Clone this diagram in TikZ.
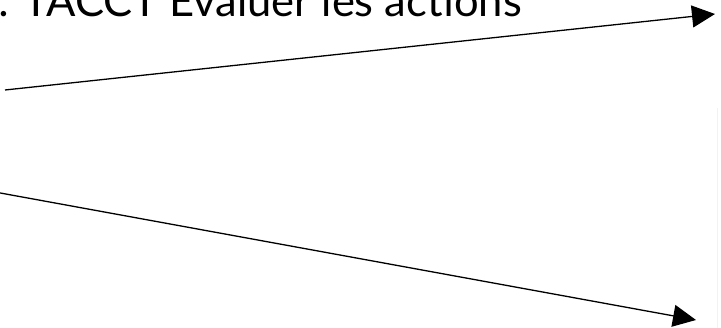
\documentclass[tikz,border=0pt]{standalone}
\usepackage{fontspec}
\setmainfont{Lato}
\usepackage{xcolor}
\usetikzlibrary{arrows.meta,positioning}
\definecolor{figInk}{HTML}{000000}
\definecolor{figEdge}{HTML}{F2F2F2}

\begin{document}
\begin{tikzpicture}[
  x=1pt, y=-1pt,
  >={Triangle[length=23pt,width=22pt]},
  flow/.style={figInk, line width=1.3pt, ->},
  titletext/.style={font=\fontsize{43.5}{50}\selectfont, inner sep=0pt, anchor=base west},
]

% --- Frame (reference proportions) ---
\useasboundingbox (0,0) rectangle (721,328);
\clip (0,0) rectangle (721,328);

% --- Title, cut at the top ---
\node[titletext] (title) at (-2,17) {: TACCT Évaluer les actions};

% --- End points ---
\coordinate (srcA) at (5,90);
\coordinate (srcB) at (-20,189.3);
\coordinate (dstA) at (715,14);
\coordinate (dstB) at (696,320);

% --- Edge of a box at the right ---
\draw[figEdge, line width=1pt] (717,108) -- (717,330);

% --- Arrows ---
\draw[flow] (srcA) -- (dstA);
\draw[flow] (srcB) -- (dstB);

\end{tikzpicture}
\end{document}
